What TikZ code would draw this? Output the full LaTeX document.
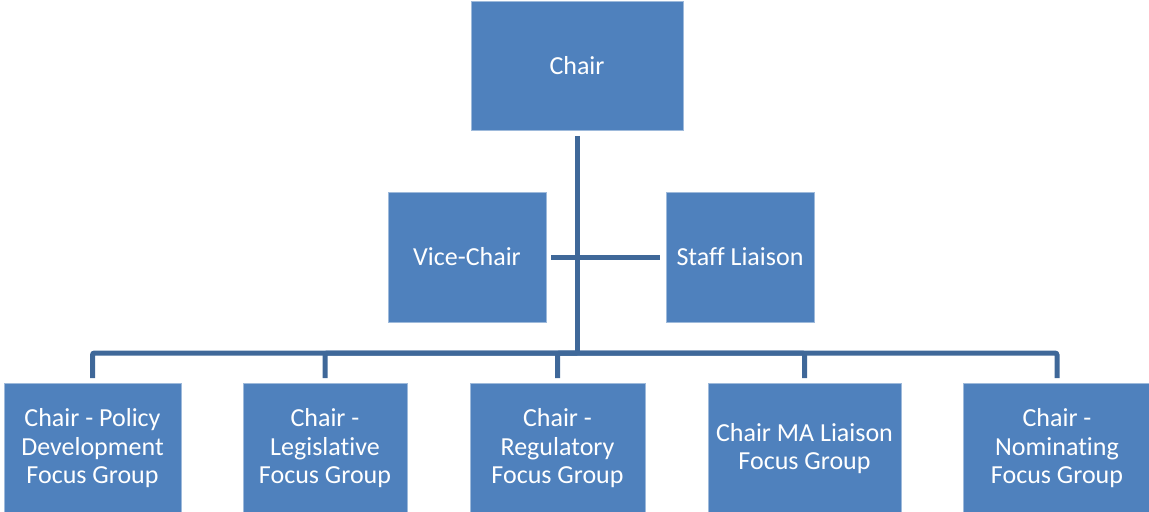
\documentclass[tikz,border=0pt]{standalone}
\usepackage{fontspec}
\setmainfont[Ligatures={NoCommon}]{Carlito}
\definecolor{boxblue}{HTML}{4F81BD}
\definecolor{lineblue}{HTML}{3F6899}
\begin{document}
\begin{tikzpicture}[x=0.75pt, y=-0.75pt,
    box/.style={draw=boxblue!55!white, line width=0.6pt, fill=boxblue, text=white, align=center, inner sep=1pt, minimum height=97.5pt, font=\fontsize{19.5}{21.4}\selectfont},
    conn/.style={draw=lineblue, line width=3.75pt, rounded corners=1.5pt}]
    \useasboundingbox (0,0) rectangle (1149,511);

    \node[box, minimum width=159pt, minimum height=96.75pt] at (577, 66)   (chair) {Chair};
    \node[box, minimum width=118.5pt] at (467, 257)   (vice) {Vice-Chair};
    \node[box, minimum width=111pt] at (740, 257)   (staff) {Staff Liaison};

    \node[box, minimum width=132.75pt] at (92.5, 448.5)   (policy) {Chair - Policy\\Development\\Focus Group};
    \node[box, minimum width=123pt] at (325, 448.5)   (legis) {Chair -\\Legislative\\Focus Group};
    \node[box, minimum width=131.25pt] at (557.5, 448.5)   (regul) {Chair -\\Regulatory\\Focus Group};
    \node[box, minimum width=144.75pt] at (804.5, 448.5)   (maliaison) {Chair MA Liaison\\Focus Group};
    \node[box, minimum width=141pt] at (1057, 448.5)   (nomin) {Chair -\\Nominating\\Focus Group};

    \coordinate (bus) at (577, 353);

    \draw[conn, shorten <=3.75pt] (chair.south) -- (bus);
    \draw[conn, shorten <=3.75pt, shorten >=4pt] (vice) -- (staff);

    \foreach \grp in {policy, legis, regul, maliaison, nomin}
        \draw[conn, shorten >=3.75pt] (bus) -| (\grp.north);

\end{tikzpicture}
\end{document}
